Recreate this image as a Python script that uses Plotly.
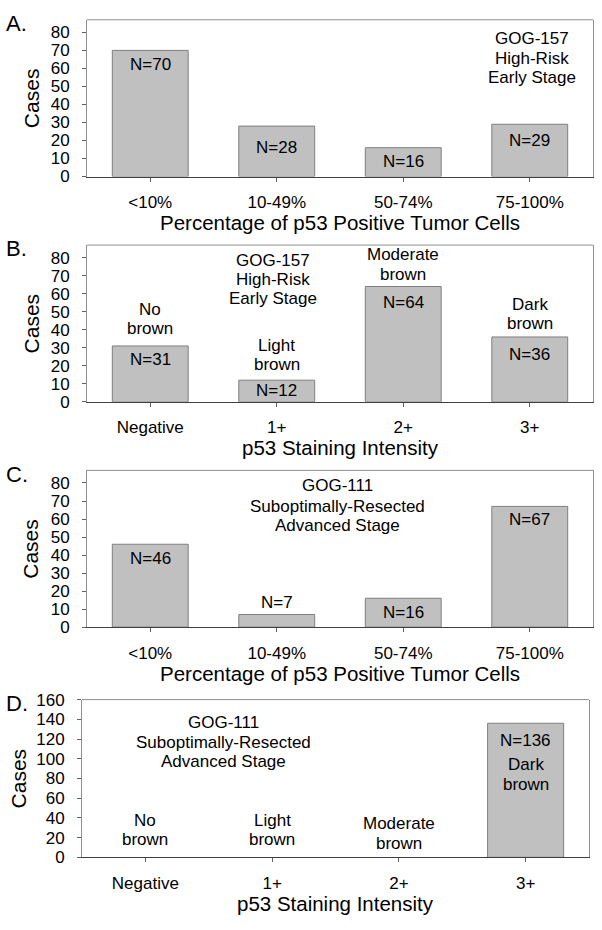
import plotly.graph_objects as go

# ---------------- data ----------------
pct_categories = ["<10%", "10-49%", "50-74%", "75-100%"]
int_categories = ["Negative", "1+", "2+", "3+"]

a_cases = [70, 28, 16, 29]
b_cases = [31, 12, 64, 36]
c_cases = [46, 7, 16, 67]
d_cases = [0, 0, 0, 136]

a_labels = ["N=70", "N=28", "N=16", "N=29"]
b_labels = ["N=31", "N=12", "N=64", "N=36"]
c_labels = ["N=46", "N=7", "N=16", "N=67"]
d_labels = ["", "", "", "N=136"]

stain_desc = [["No", "brown"], ["Light", "brown"], ["Moderate", "brown"], ["Dark", "brown"]]
gog157_note = ["GOG-157", "High-Risk", "Early Stage"]
gog111_note = ["GOG-111", "Suboptimally-Resected", "Advanced Stage"]

x_title_pct = "Percentage of p53 Positive Tumor Cells"
x_title_int = "p53 Staining Intensity"
y_title = "Cases"
panel_letters = ["A.", "B.", "C.", "D."]

# ---------------- layout geometry (pixels) ----------------
W, H = 602, 930
FONT = "Arial, Liberation Sans, sans-serif"
BAR_FILL = "#c0c0c0"
BAR_LINE = "#7f7f7f"
FRAME = "#8f8f8f"

def px(xp):
    return xp / W

def py(yp):
    return 1 - yp / H

panels = [
    dict(l=87, r=593, t=11, b=171, ymax=87, dtick=10, cats=pct_categories, vals=a_cases, xtitle=x_title_pct, ytx=31),
    dict(l=87, r=593, t=241, b=401, ymax=87, dtick=10, cats=int_categories, vals=b_cases, xtitle=x_title_int, ytx=31),
    dict(l=87, r=593, t=471, b=631, ymax=87, dtick=10, cats=pct_categories, vals=c_cases, xtitle=x_title_pct, ytx=31),
    dict(l=82, r=589, t=705, b=866, ymax=160, dtick=20, cats=int_categories, vals=d_cases, xtitle=x_title_int, ytx=18),
]

fig = go.Figure()
annotations = []
shapes = []

for i, p in enumerate(panels):
    n = "" if i == 0 else str(i + 1)
    xa = "x" + n
    ya = "y" + n
    fig.add_trace(go.Bar(
        x=list(range(len(p["cats"]))), y=p["vals"], width=0.6,
        marker=dict(color=BAR_FILL,
                    line=dict(color=BAR_LINE, width=[1 if v > 0 else 0 for v in p["vals"]])),
        xaxis=xa, yaxis=ya, showlegend=False, hoverinfo="skip",
    ))
    fig.update_layout(**{
        ("xaxis" + n): dict(
            domain=[px(p["l"]), px(p["r"])], anchor=ya,
            range=[-0.5, len(p["cats"]) - 0.5],
            tickmode="array", tickvals=list(range(len(p["cats"]))), ticktext=p["cats"],
            showline=True, linecolor="#404040", linewidth=1, mirror=False,
            ticks="outside", ticklen=4, tickcolor="#606060", tickwidth=1,
            showgrid=False, zeroline=False, fixedrange=True,
            tickfont=dict(family=FONT, size=17, color="black"),
            ticklabelstandoff=6,
        ),
        ("yaxis" + n): dict(
            domain=[py(p["b"]), py(p["t"])], anchor=xa,
            range=[0, p["ymax"]], tickmode="linear", tick0=0, dtick=p["dtick"],
            showline=True, linecolor=FRAME, linewidth=1, mirror=True,
            ticks="outside", ticklen=4, tickcolor="#606060", tickwidth=1,
            showgrid=False, zeroline=False, fixedrange=True,
            tickfont=dict(family=FONT, size=17, color="black"),
            ticklabelstandoff=9,
        ),
    })
    shapes.append(dict(type="line", xref="paper", yref="paper",
                       x0=px(p["l"]), x1=px(p["r"]), y0=py(p["t"]), y1=py(p["t"]),
                       line=dict(color=FRAME, width=1)))
    annotations.append(dict(text=p["xtitle"], xref="paper", yref="paper",
                            x=px((p["l"] + p["r"]) / 2), y=py(p["b"] + 47),
                            showarrow=False, xanchor="center", yanchor="middle",
                            font=dict(family=FONT, size=20.5, color="black")))
    annotations.append(dict(text=y_title, xref="paper", yref="paper",
                            x=px(p["ytx"]), y=py((p["t"] + p["b"]) / 2), textangle=-90,
                            showarrow=False, xanchor="center", yanchor="middle",
                            font=dict(family=FONT, size=21, color="black")))
    annotations.append(dict(text=panel_letters[i], xref="paper", yref="paper",
                            x=px(4), y=py(p["t"] + 4), showarrow=False,
                            xanchor="left", yanchor="middle",
                            font=dict(family=FONT, size=22, color="black")))


def add_text(panel_idx, x, y, text):
    n = "" if panel_idx == 0 else str(panel_idx + 1)
    annotations.append(dict(text=text, xref="x" + n, yref="y" + n, x=x, y=y,
                            showarrow=False, xanchor="center", yanchor="middle",
                            font=dict(family=FONT, size=17, color="black")))


# Panel A
for k, yv in enumerate([61.9, 16.2, 8.1, 19.9]):
    add_text(0, k, yv, a_labels[k])
for line, yv in zip(gog157_note, [76.7, 65.3, 54.7]):
    add_text(0, 3.02, yv, line)

# Panel B
for k, yv in enumerate([23.6, 6.4, 55.4, 26.5]):
    add_text(1, k, yv, b_labels[k])
b_desc_y = [[51.4, 40.5], [31.5, 20.5], [81.6, 70.4], [54.2, 43.3]]
for k in range(4):
    for line, yv in zip(stain_desc[k], b_desc_y[k]):
        add_text(1, k, yv, line)
for line, yv in zip(gog157_note, [78.7, 67.8, 57.3]):
    add_text(1, 0.97, yv, line)

# Panel C
for k, yv in enumerate([37.9, 13.5, 8.1, 59.6]):
    add_text(2, k, yv, c_labels[k])
for line, yv in zip(gog111_note, [78.5, 67.1, 56.3]):
    add_text(2, 1.48, yv, line)

# Panel D
add_text(3, 3, 118.6, d_labels[3])
d_desc_y = [[37.5, 17.6], [37.5, 17.6], [34.2, 14.2], [94.2, 74.2]]
for k in range(4):
    for line, yv in zip(stain_desc[k], d_desc_y[k]):
        add_text(3, k, yv, line)
for line, yv in zip(gog111_note, [136.7, 116.7, 96.7]):
    add_text(3, 0.62, yv, line)

fig.update_layout(
    width=W, height=H,
    margin=dict(l=0, r=0, t=0, b=0),
    paper_bgcolor="white", plot_bgcolor="white",
    font=dict(family=FONT, color="black"),
    annotations=annotations, shapes=shapes,
    bargap=0.4, showlegend=False,
)

fig.write_html(
    "out.html",
    config={"displayModeBar": False, "staticPlot": True},
    post_script="document.body.style.margin='0';document.body.style.padding='0';"
                "document.body.style.overflow='hidden';",
)
